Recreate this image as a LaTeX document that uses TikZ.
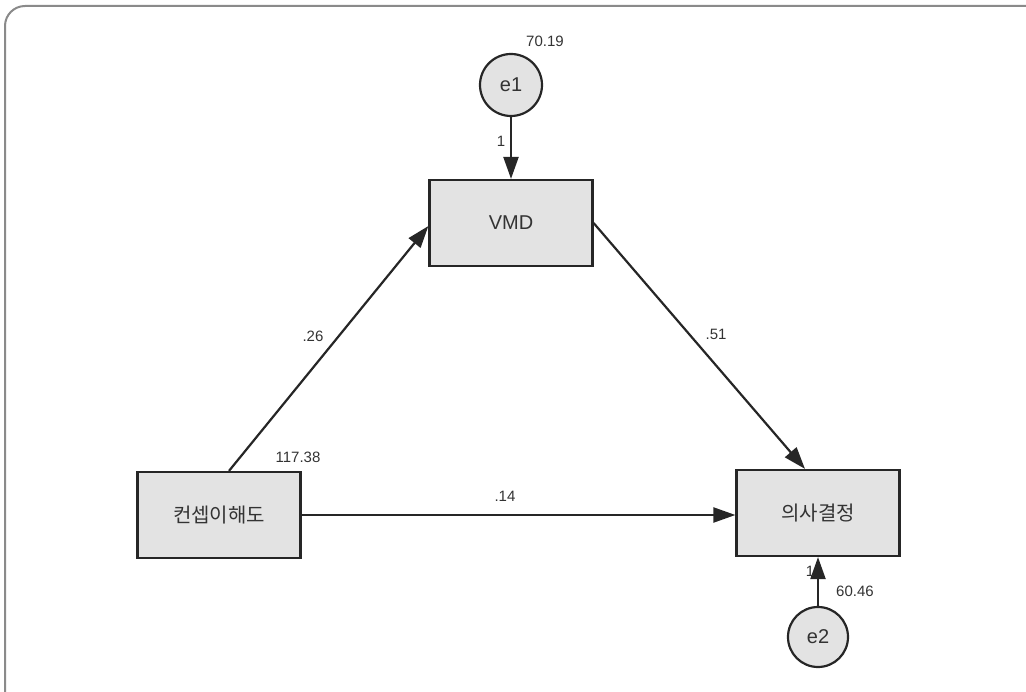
\documentclass[tikz,border=0pt]{standalone}
\usepackage{fontspec}
\setmainfont{Liberation Sans}
\newfontfamily\krfont{Noto Sans CJK KR}
\usetikzlibrary{arrows.meta}
\definecolor{txt}{HTML}{333333}
\definecolor{boxfill}{HTML}{E3E3E3}
\definecolor{framec}{HTML}{8A8A8A}
\begin{document}
\begin{tikzpicture}[x=1pt,y=-1pt,
  varbox/.style={draw=black!85,line width=2.2pt,fill=boxfill,minimum width=163pt,minimum height=86pt,inner sep=0pt,text=txt,font=\fontsize{20}{22}\selectfont},
  errc/.style={draw=black!85,line width=2.2pt,fill=boxfill,circle,minimum size=62pt,inner sep=0pt,text=txt,font=\fontsize{20}{22}\selectfont},
  lab/.style={text=txt,font=\fontsize{15}{17}\selectfont,inner sep=0pt},
  path/.style={line width=2.2pt,draw=black!85,-{Triangle[length=22pt,width=15pt]}}
]
\useasboundingbox (0,0) rectangle (1026,692);
\draw[framec,line width=2pt,rounded corners=20pt] (5,6) rectangle (1050,715);

\node[varbox] (v) at (511,223) {VMD};
\node[varbox] (k) at (219,515) {\krfont 컨셉이해도};
\node[varbox] (d) at (818,513) {\krfont 의사결정};
\node[errc] (e1) at (511,85) {e1};
\node[errc,minimum size=60pt] (e2) at (818,637) {e2};

\draw[path] (e1) -- (v);
\draw[path] (e2) -- (d);
\draw[path] ([xshift=10pt]k.north) -- ([yshift=-3pt]v.west);
\draw[path] (v.east) -- ([xshift=-13pt]d.north);
\draw[path] (k.east) -- (k.east -| d.west);

\node[lab] (l70) at (545,41) {70.19};
\node[lab] (l1a) at (501,141) {1};
\node[lab] (l117) at (298,457) {117.38};
\node[lab] (l26) at (313,336) {.26};
\node[lab] (l51) at (716,334) {.51};
\node[lab] (l14) at (505,496) {.14};
\node[lab] (l1b) at (810,571) {1};
\node[lab] (l60) at (855,591) {60.46};
\end{tikzpicture}
\end{document}
